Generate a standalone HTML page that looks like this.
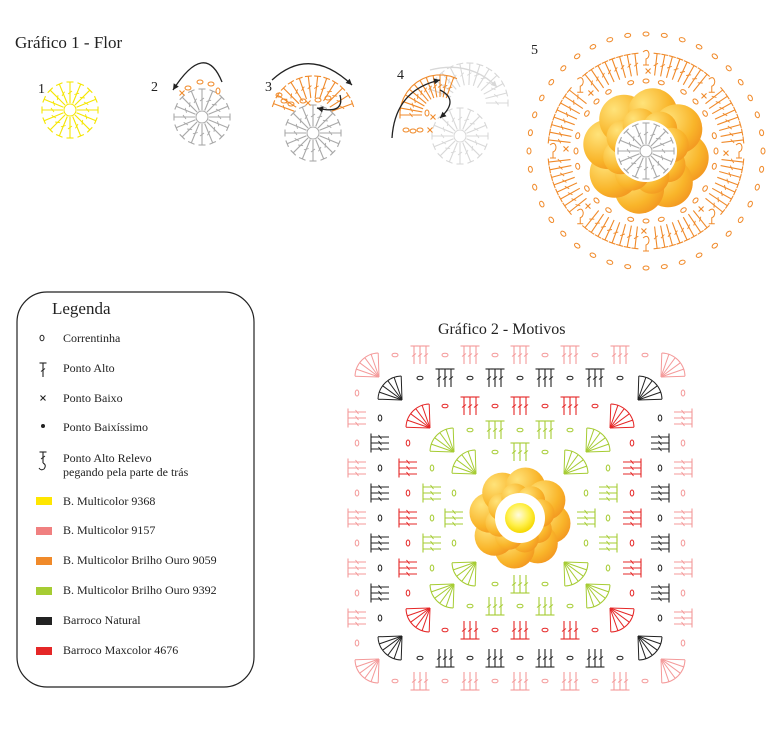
<!DOCTYPE html>
<html><head><meta charset="utf-8">
<style>
html,body{margin:0;padding:0;background:#fff;}
body{width:766px;height:744px;overflow:hidden;position:relative;font-family:"Liberation Serif",serif;}
.t{position:absolute;color:#222;white-space:nowrap;}
.lg{position:absolute;font-size:12px;color:#222;left:63px;}
svg{position:absolute;left:0;top:0;}
</style></head><body>
<svg id="s" width="766" height="744" viewBox="0 0 766 744">
<defs>
<radialGradient id="pet" cx="0.3" cy="0.3" r="0.9">
<stop offset="0" stop-color="#ffe37a"/><stop offset="0.6" stop-color="#f9b52a"/><stop offset="1" stop-color="#f08a1c"/>
</radialGradient>
<radialGradient id="cen" cx="0.45" cy="0.4" r="0.6">
<stop offset="0" stop-color="#fffbe0"/><stop offset="0.6" stop-color="#fff04a"/><stop offset="1" stop-color="#f5d800"/>
</radialGradient>
</defs>
<rect x="17" y="292" width="237" height="395" rx="30" fill="none" stroke="#222" stroke-width="1.2"/>
<g id="g"></g>
</svg>
<div class="t" style="left:15px;top:33px;font-size:17px;">Gráfico 1 - Flor</div>
<div class="t" style="left:38px;top:82px;font-size:14px;">1</div>
<div class="t" style="left:151px;top:80px;font-size:14px;">2</div>
<div class="t" style="left:265px;top:80px;font-size:14px;">3</div>
<div class="t" style="left:397px;top:68px;font-size:14px;">4</div>
<div class="t" style="left:531px;top:43px;font-size:14px;">5</div>
<div class="t" style="left:52px;top:299px;font-size:17px;">Legenda</div>
<div class="t" style="left:438px;top:321px;font-size:16px;">Gráfico 2 - Motivos</div>
<div class="lg" style="top:331px">Correntinha</div>
<div class="lg" style="top:361px">Ponto Alto</div>
<div class="lg" style="top:391px">Ponto Baixo</div>
<div class="lg" style="top:420px">Ponto Baixíssimo</div>
<div class="lg" style="top:451px;line-height:14px">Ponto Alto Relevo<br>pegando pela parte de trás</div>
<div class="lg" style="top:494px">B. Multicolor 9368</div>
<div class="lg" style="top:523px">B. Multicolor 9157</div>
<div class="lg" style="top:553px">B. Multicolor Brilho Ouro 9059</div>
<div class="lg" style="top:583px">B. Multicolor Brilho Ouro 9392</div>
<div class="lg" style="top:613px">Barroco Natural</div>
<div class="lg" style="top:643px">Barroco Maxcolor 4676</div>
<script>
var g=document.getElementById('g'),out='';
function L(x1,y1,x2,y2,c,w){out+='<line x1="'+x1.toFixed(1)+'" y1="'+y1.toFixed(1)+'" x2="'+x2.toFixed(1)+'" y2="'+y2.toFixed(1)+'" stroke="'+c+'" stroke-width="'+(w||1)+'"/>';}
function O(x,y,rx,ry,c,rot){out+='<ellipse cx="'+x.toFixed(1)+'" cy="'+y.toFixed(1)+'" rx="'+rx+'" ry="'+ry+'" fill="none" stroke="'+c+'" stroke-width="1" transform="rotate('+(rot||0)+' '+x.toFixed(1)+' '+y.toFixed(1)+')"/>';}
function ST(x1,y1,x2,y2,c){L(x1,y1,x2,y2,c,1.1);var dx=x2-x1,dy=y2-y1,l=Math.hypot(dx,dy),nx=-dy/l,ny=dx/l;
L(x2+nx*3.5,y2+ny*3.5,x2-nx*3.5,y2-ny*3.5,c,1.1);var mx=x1+dx*0.5,my=y1+dy*0.5;L(mx+nx*2+dx/l*1.5,my+ny*2+dy/l*1.5,mx-nx*2-dx/l*1.5,my-ny*2-dy/l*1.5,c,0.9);}
function radial(cx,cy,r1,r2,n,c,a0,a1){a0=a0||0;a1=(a1===undefined)?360:a1;var full=(a1-a0)>=360;
for(var i=0;i<n;i++){var a=(a0+(a1-a0)*i/(full?n:(n-1)))*Math.PI/180;ST(cx+Math.cos(a)*r1,cy+Math.sin(a)*r1,cx+Math.cos(a)*r2,cy+Math.sin(a)*r2,c);}}
function ring(cx,cy,r,c){out+='<circle cx="'+cx+'" cy="'+cy+'" r="'+r+'" fill="none" stroke="'+c+'" stroke-width="1"/>';}
function X(x,y,c){L(x-2.5,y-2.5,x+2.5,y+2.5,c,1.1);L(x-2.5,y+2.5,x+2.5,y-2.5,c,1.1);}
function arc(x1,y1,cx,cy,x2,y2,c){out+='<path d="M'+x1+' '+y1+' Q'+cx+' '+cy+' '+x2+' '+y2+'" fill="none" stroke="'+c+'" stroke-width="1.3"/>';
var dx=x2-cx,dy=y2-cy,l=Math.hypot(dx,dy);dx/=l;dy/=l;out+='<path d="M'+x2+' '+y2+' L'+(x2-dx*6-dy*3).toFixed(1)+' '+(y2-dy*6+dx*3).toFixed(1)+' L'+(x2-dx*6+dy*3).toFixed(1)+' '+(y2-dy*6-dx*3).toFixed(1)+'Z" fill="'+c+'"/>';}
var Y='#f5e600',G='#a8a8a8',OR='#f08a2a',GL='#d8d8d8';
// 1
ring(70,110,6,Y);radial(70,110,7,28,16,Y);
// 2
ring(202,117,6,G);radial(202,117,7,28,16,G);
O(188,88,3,2,OR);O(200,82,3,2,OR);O(211,84,3,2,OR);O(218,91,2,3,OR);X(182,93,OR);
arc(222,82,205,40,173,90,'#222');
// 3
ring(313,133,6,G);radial(313,133,7,28,16,G);
radial(313,118,20,42,12,OR,200,340);
O(279,95,3,2,OR);O(284,101,3,2,OR);O(291,104,3,2,OR);O(303,101,3,2,OR);X(308,103,OR);O(318,100,3,2,OR);O(328,98,3,2,OR);
arc(272,80,310,45,352,85,'#222');arc(340,95,345,115,317,108,'#222');
// 4
ring(460,136,6,GL);radial(460,136,7,28,16,GL);radial(468,103,18,40,12,GL,200,360);
radial(440,115,18,40,12,OR,180,290);
O(406,130,3,2,OR);O(413,131,3,2,OR);O(420,130,3,2,OR);X(430,130,OR);X(433,117,OR);O(427,113,2,3,OR);
arc(430,70,470,60,497,87,GL);arc(392,138,395,90,440,80,'#222');arc(440,90,460,100,440,118,'#222');
// 5
var cx5=646,cy5=151;
for(var i=0;i<40;i++){var a=i/40*2*Math.PI;O(cx5+Math.cos(a)*117,cy5+Math.sin(a)*117,2,3,OR,a*180/Math.PI);}
for(var k=0;k<8;k++){var ac=-112.5+45*k;radial(cx5,cy5,76,98,8,OR,ac-16,ac+16);
var a=(ac+22.5)*Math.PI/180;var hx=cx5+Math.cos(a)*93,hy=cy5+Math.sin(a)*93;out+='<path d="M'+(hx-3)+' '+(hy-6)+' q5 -4 6 2 q0 4 -3 5 l0 6 m-3 0 l6 0" fill="none" stroke="'+OR+'" stroke-width="1"/>';
for(var j=0;j<3;j++){var b=a+(j-1)*0.22;O(cx5+Math.cos(b)*70,cy5+Math.sin(b)*70,2,3,OR,b*180/Math.PI);}
var b2=(ac-21)*Math.PI/180;X(cx5+Math.cos(b2)*80,cy5+Math.sin(b2)*80,OR);}
function flower(cx,cy,R){for(var i=0;i<8;i++){var a=(i/8*360+10)*Math.PI/180;out+='<circle cx="'+(cx+Math.cos(a)*R*0.62).toFixed(1)+'" cy="'+(cy+Math.sin(a)*R*0.62).toFixed(1)+'" r="'+(R*0.4).toFixed(1)+'" fill="url(#pet)"/>';}
for(var i=0;i<8;i++){var a=(i/8*360+32)*Math.PI/180;out+='<circle cx="'+(cx+Math.cos(a)*R*0.42).toFixed(1)+'" cy="'+(cy+Math.sin(a)*R*0.42).toFixed(1)+'" r="'+(R*0.28).toFixed(1)+'" fill="url(#pet)"/>';}
out+='<circle cx="'+cx+'" cy="'+cy+'" r="'+(R*0.5)+'" fill="#fff"/>';}
flower(cx5,cy5,62);ring(cx5,cy5,6,G);radial(cx5,cy5,7,28,16,G);
// legend icons
O(42,338,2,2.8,'#222');ST(43,377,43,363,'#222');X(43,398,'#222');out+='<circle cx="43" cy="426" r="2" fill="#222"/>';
ST(43,463,43,452,'#222');out+='<path d="M43 463 q4 2 1 6 q-3 2 -5 -1" fill="none" stroke="#222" stroke-width="1"/>';
var cols=['#ffe600','#f08080','#f08a2a','#a6cc33','#222','#e52727'];
for(var i=0;i<6;i++)out+='<rect x="36" y="'+(497+30*i)+'" width="16" height="8" fill="'+cols[i]+'"/>';
// motif
var mx=520,my=518;
var rings=[[66,1,'#a6cc33',18],[88,2,'#a6cc33',18],[112,3,'#e52727',18],[140,4,'#222',18],[163,5,'#f49a9a',18]];
rings.forEach(function(r){var d=r[0],n=r[1],c=r[2],len=r[3];
for(var s=0;s<4;s++){var ux=[0,1,0,-1][s],uy=[-1,0,1,0][s],tx=-uy,ty=ux;
for(var i=0;i<n;i++){var t=(i-(n-1)/2)*50;for(var j=-1;j<=1;j++){var o=t+j*6;var bx=mx+tx*o+ux*(d-len/2),by=my+ty*o+uy*(d-len/2);ST(bx,by,bx+ux*len,by+uy*len,c);}}
for(var i=0;i<=n;i++){var t=(i-n/2)*50;var ox=mx+tx*t+ux*d,oy=my+ty*t+uy*d;O(ox,oy,(ux?1.8:3),(ux?3:1.8),c);}}
for(var q=0;q<4;q++){var sx=[-1,1,1,-1][q],sy=[-1,-1,1,1][q];var px=mx+sx*(d-22),py=my+sy*(d-22);var base=Math.atan2(sy,sx);
for(var j=0;j<6;j++){var a=base-0.75+1.5*j/5;L(px,py,px+Math.cos(a)*24,py+Math.sin(a)*24,c,1);}
out+='<path d="M'+(px+Math.cos(base-0.75)*24).toFixed(1)+' '+(py+Math.sin(base-0.75)*24).toFixed(1)+' A24 24 0 0 1 '+(px+Math.cos(base+0.75)*24).toFixed(1)+' '+(py+Math.sin(base+0.75)*24).toFixed(1)+'" fill="none" stroke="'+c+'" stroke-width="1"/>';}
});
flower(mx,my,50);out+='<circle cx="'+mx+'" cy="'+my+'" r="15" fill="url(#cen)"/>';
g.innerHTML=out;
</script>
</body></html>
